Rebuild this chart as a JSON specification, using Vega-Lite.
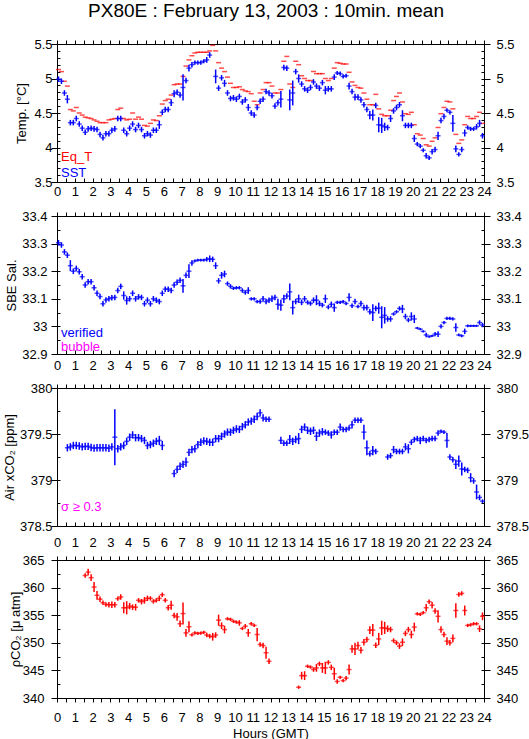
{
"$schema":"https://vega.github.io/schema/vega-lite/v6.json",
"background":"white",
"padding":{"left":2,"top":1,"right":0,"bottom":0},
"title":{"text":"PX80E : February 13, 2003 : 10min. mean","font":"Liberation Sans","fontSize":19,"fontWeight":"normal","color":"black","anchor":"middle","offset":17},
"datasets":{
"temp":[
{"s":"Eq_T","t":0.083,"v":5.13},{"s":"Eq_T","t":0.25,"v":5.10},{"s":"Eq_T","t":0.417,"v":4.96},{"s":"Eq_T","t":0.583,"v":4.89},{"s":"Eq_T","t":0.75,"v":4.55},{"s":"Eq_T","t":0.917,"v":4.53},
{"s":"Eq_T","t":1.083,"v":4.58},{"s":"Eq_T","t":1.25,"v":4.50},{"s":"Eq_T","t":1.417,"v":4.47},{"s":"Eq_T","t":1.583,"v":4.44},{"s":"Eq_T","t":1.75,"v":4.43},{"s":"Eq_T","t":1.917,"v":4.42},
{"s":"Eq_T","t":2.083,"v":4.40},{"s":"Eq_T","t":2.25,"v":4.38},{"s":"Eq_T","t":2.417,"v":4.36},{"s":"Eq_T","t":2.583,"v":4.36},{"s":"Eq_T","t":2.75,"v":4.36},{"s":"Eq_T","t":2.917,"v":4.40},
{"s":"Eq_T","t":3.083,"v":4.41},{"s":"Eq_T","t":3.25,"v":4.42},{"s":"Eq_T","t":3.417,"v":4.55},{"s":"Eq_T","t":3.583,"v":4.57},{"s":"Eq_T","t":3.75,"v":4.42},{"s":"Eq_T","t":3.917,"v":4.40},
{"s":"Eq_T","t":4.083,"v":4.41},{"s":"Eq_T","t":4.25,"v":4.50},{"s":"Eq_T","t":4.417,"v":4.41},{"s":"Eq_T","t":4.583,"v":4.44},{"s":"Eq_T","t":4.75,"v":4.41},{"s":"Eq_T","t":4.917,"v":4.32},
{"s":"Eq_T","t":5.083,"v":4.31},{"s":"Eq_T","t":5.25,"v":4.35},{"s":"Eq_T","t":5.417,"v":4.40},{"s":"Eq_T","t":5.583,"v":4.39},{"s":"Eq_T","t":5.75,"v":4.46},{"s":"Eq_T","t":5.917,"v":4.63},
{"s":"Eq_T","t":6.083,"v":4.68},{"s":"Eq_T","t":6.25,"v":4.70},{"s":"Eq_T","t":6.417,"v":4.76},{"s":"Eq_T","t":6.583,"v":4.91},{"s":"Eq_T","t":6.75,"v":4.92},{"s":"Eq_T","t":6.917,"v":4.92},
{"s":"Eq_T","t":7.083,"v":5.03},{"s":"Eq_T","t":7.25,"v":5.18},{"s":"Eq_T","t":7.417,"v":5.27},{"s":"Eq_T","t":7.583,"v":5.33},{"s":"Eq_T","t":7.75,"v":5.37},{"s":"Eq_T","t":7.917,"v":5.38},
{"s":"Eq_T","t":8.083,"v":5.38},{"s":"Eq_T","t":8.25,"v":5.38},{"s":"Eq_T","t":8.417,"v":5.38},{"s":"Eq_T","t":8.583,"v":5.40},{"s":"Eq_T","t":8.75,"v":5.48},{"s":"Eq_T","t":8.917,"v":5.40},
{"s":"Eq_T","t":9.083,"v":5.23},{"s":"Eq_T","t":9.25,"v":5.15},{"s":"Eq_T","t":9.417,"v":5.10},{"s":"Eq_T","t":9.583,"v":5.02},{"s":"Eq_T","t":9.75,"v":4.93},{"s":"Eq_T","t":9.917,"v":4.87},
{"s":"Eq_T","t":10.083,"v":4.87},{"s":"Eq_T","t":10.25,"v":4.88},{"s":"Eq_T","t":10.417,"v":4.84},{"s":"Eq_T","t":10.583,"v":4.82},{"s":"Eq_T","t":10.75,"v":4.81},{"s":"Eq_T","t":10.917,"v":4.78},
{"s":"Eq_T","t":11.083,"v":4.67},{"s":"Eq_T","t":11.25,"v":4.62},{"s":"Eq_T","t":11.417,"v":4.79},{"s":"Eq_T","t":11.583,"v":4.84},{"s":"Eq_T","t":11.75,"v":4.94},{"s":"Eq_T","t":11.917,"v":4.94},
{"s":"Eq_T","t":12.083,"v":4.89},{"s":"Eq_T","t":12.25,"v":4.79},{"s":"Eq_T","t":12.417,"v":4.79},{"s":"Eq_T","t":12.583,"v":4.84},{"s":"Eq_T","t":12.75,"v":5.25},{"s":"Eq_T","t":12.917,"v":5.32},
{"s":"Eq_T","t":13.083,"v":4.92},{"s":"Eq_T","t":13.25,"v":4.87},{"s":"Eq_T","t":13.417,"v":5.25},{"s":"Eq_T","t":13.583,"v":5.20},{"s":"Eq_T","t":13.75,"v":5.04},{"s":"Eq_T","t":13.917,"v":5.00},
{"s":"Eq_T","t":14.083,"v":4.97},{"s":"Eq_T","t":14.25,"v":4.97},{"s":"Eq_T","t":14.417,"v":5.10},{"s":"Eq_T","t":14.583,"v":5.07},{"s":"Eq_T","t":14.75,"v":5.07},{"s":"Eq_T","t":14.917,"v":5.07},
{"s":"Eq_T","t":15.083,"v":5.00},{"s":"Eq_T","t":15.25,"v":4.97},{"s":"Eq_T","t":15.417,"v":5.00},{"s":"Eq_T","t":15.583,"v":5.15},{"s":"Eq_T","t":15.75,"v":5.23},{"s":"Eq_T","t":15.917,"v":5.22},
{"s":"Eq_T","t":16.083,"v":5.21},{"s":"Eq_T","t":16.25,"v":5.21},{"s":"Eq_T","t":16.417,"v":5.09},{"s":"Eq_T","t":16.583,"v":4.95},{"s":"Eq_T","t":16.75,"v":4.90},{"s":"Eq_T","t":16.917,"v":4.87},
{"s":"Eq_T","t":17.083,"v":4.86},{"s":"Eq_T","t":17.25,"v":4.79},{"s":"Eq_T","t":17.417,"v":4.70},{"s":"Eq_T","t":17.583,"v":4.62},{"s":"Eq_T","t":17.75,"v":4.62},{"s":"Eq_T","t":17.917,"v":4.77},
{"s":"Eq_T","t":18.083,"v":4.56},{"s":"Eq_T","t":18.25,"v":4.48},{"s":"Eq_T","t":18.417,"v":4.46},{"s":"Eq_T","t":18.583,"v":4.46},{"s":"Eq_T","t":18.75,"v":4.54},{"s":"Eq_T","t":18.917,"v":4.68},
{"s":"Eq_T","t":19.083,"v":4.74},{"s":"Eq_T","t":19.25,"v":4.79},{"s":"Eq_T","t":19.417,"v":4.66},{"s":"Eq_T","t":19.583,"v":4.49},{"s":"Eq_T","t":19.75,"v":4.48},{"s":"Eq_T","t":19.917,"v":4.51},
{"s":"Eq_T","t":20.083,"v":4.33},{"s":"Eq_T","t":20.25,"v":4.20},{"s":"Eq_T","t":20.417,"v":4.18},{"s":"Eq_T","t":20.583,"v":4.13},{"s":"Eq_T","t":20.75,"v":4.04},{"s":"Eq_T","t":20.917,"v":4.02},
{"s":"Eq_T","t":21.083,"v":4.09},{"s":"Eq_T","t":21.25,"v":4.14},{"s":"Eq_T","t":21.417,"v":4.29},{"s":"Eq_T","t":21.583,"v":4.49},{"s":"Eq_T","t":21.75,"v":4.58},{"s":"Eq_T","t":21.917,"v":4.67},
{"s":"Eq_T","t":22.083,"v":4.66},{"s":"Eq_T","t":22.25,"v":4.56},{"s":"Eq_T","t":22.417,"v":4.19},{"s":"Eq_T","t":22.583,"v":4.06},{"s":"Eq_T","t":22.75,"v":4.11},{"s":"Eq_T","t":22.917,"v":4.33},
{"s":"Eq_T","t":23.083,"v":4.45},{"s":"Eq_T","t":23.25,"v":4.42},{"s":"Eq_T","t":23.417,"v":4.42},{"s":"Eq_T","t":23.583,"v":4.45},{"s":"Eq_T","t":23.75,"v":4.51},{"s":"Eq_T","t":23.917,"v":4.35},
{"s":"SST","t":0.083,"v":4.99,"e":0.04},{"s":"SST","t":0.25,"v":4.96,"e":0.04},{"s":"SST","t":0.417,"v":4.79,"e":0.04},{"s":"SST","t":0.583,"v":4.70,"e":0.06},{"s":"SST","t":0.75,"v":4.36,"e":0.04},{"s":"SST","t":0.917,"v":4.36,"e":0.04},
{"s":"SST","t":1.083,"v":4.42,"e":0.04},{"s":"SST","t":1.25,"v":4.34,"e":0.04},{"s":"SST","t":1.417,"v":4.28,"e":0.04},{"s":"SST","t":1.583,"v":4.22,"e":0.04},{"s":"SST","t":1.75,"v":4.27,"e":0.04},{"s":"SST","t":1.917,"v":4.28,"e":0.04},
{"s":"SST","t":2.083,"v":4.27,"e":0.04},{"s":"SST","t":2.25,"v":4.26,"e":0.04},{"s":"SST","t":2.417,"v":4.19,"e":0.04},{"s":"SST","t":2.583,"v":4.14,"e":0.04},{"s":"SST","t":2.75,"v":4.20,"e":0.04},{"s":"SST","t":2.917,"v":4.20,"e":0.04},
{"s":"SST","t":3.083,"v":4.25,"e":0.04},{"s":"SST","t":3.25,"v":4.27,"e":0.04},{"s":"SST","t":3.417,"v":4.42,"e":0.04},{"s":"SST","t":3.583,"v":4.42,"e":0.04},{"s":"SST","t":3.75,"v":4.25,"e":0.04},{"s":"SST","t":3.917,"v":4.20,"e":0.04},
{"s":"SST","t":4.083,"v":4.28,"e":0.04},{"s":"SST","t":4.25,"v":4.34,"e":0.04},{"s":"SST","t":4.417,"v":4.26,"e":0.04},{"s":"SST","t":4.583,"v":4.32,"e":0.04},{"s":"SST","t":4.75,"v":4.26,"e":0.04},{"s":"SST","t":4.917,"v":4.17,"e":0.04},
{"s":"SST","t":5.083,"v":4.20,"e":0.04},{"s":"SST","t":5.25,"v":4.18,"e":0.04},{"s":"SST","t":5.417,"v":4.25,"e":0.04},{"s":"SST","t":5.583,"v":4.25,"e":0.04},{"s":"SST","t":5.75,"v":4.33,"e":0.06},{"s":"SST","t":5.917,"v":4.51,"e":0.04},
{"s":"SST","t":6.083,"v":4.55,"e":0.04},{"s":"SST","t":6.25,"v":4.55,"e":0.04},{"s":"SST","t":6.417,"v":4.65,"e":0.05},{"s":"SST","t":6.583,"v":4.78,"e":0.05},{"s":"SST","t":6.75,"v":4.80,"e":0.04},{"s":"SST","t":6.917,"v":4.76,"e":0.04},
{"s":"SST","t":7.083,"v":4.87,"e":0.19},{"s":"SST","t":7.25,"v":4.97,"e":0.04},{"s":"SST","t":7.417,"v":5.15,"e":0.05},{"s":"SST","t":7.583,"v":5.20,"e":0.04},{"s":"SST","t":7.75,"v":5.23,"e":0.03},{"s":"SST","t":7.917,"v":5.23,"e":0.03},
{"s":"SST","t":8.083,"v":5.23,"e":0.03},{"s":"SST","t":8.25,"v":5.25,"e":0.03},{"s":"SST","t":8.417,"v":5.27,"e":0.04},{"s":"SST","t":8.583,"v":5.34,"e":0.04},{"s":"SST","t":8.917,"v":5.03,"e":0.1},
{"s":"SST","t":9.083,"v":4.86,"e":0.04},{"s":"SST","t":9.25,"v":5.01,"e":0.04},{"s":"SST","t":9.417,"v":4.93,"e":0.05},{"s":"SST","t":9.583,"v":4.79,"e":0.04},{"s":"SST","t":9.75,"v":4.71,"e":0.04},{"s":"SST","t":9.917,"v":4.72,"e":0.04},
{"s":"SST","t":10.083,"v":4.70,"e":0.04},{"s":"SST","t":10.25,"v":4.74,"e":0.04},{"s":"SST","t":10.417,"v":4.66,"e":0.04},{"s":"SST","t":10.583,"v":4.69,"e":0.04},{"s":"SST","t":10.75,"v":4.58,"e":0.05},{"s":"SST","t":10.917,"v":4.50,"e":0.04},
{"s":"SST","t":11.083,"v":4.47,"e":0.04},{"s":"SST","t":11.25,"v":4.58,"e":0.04},{"s":"SST","t":11.417,"v":4.67,"e":0.04},{"s":"SST","t":11.583,"v":4.70,"e":0.04},{"s":"SST","t":11.75,"v":4.81,"e":0.04},{"s":"SST","t":11.917,"v":4.79,"e":0.04},
{"s":"SST","t":12.083,"v":4.75,"e":0.04},{"s":"SST","t":12.25,"v":4.60,"e":0.04},{"s":"SST","t":12.417,"v":4.65,"e":0.04},{"s":"SST","t":12.583,"v":4.70,"e":0.12},{"s":"SST","t":12.75,"v":5.16,"e":0.04},{"s":"SST","t":12.917,"v":5.15,"e":0.04},
{"s":"SST","t":13.083,"v":4.69,"e":0.15},{"s":"SST","t":13.25,"v":4.79,"e":0.18},{"s":"SST","t":13.417,"v":5.10,"e":0.04},{"s":"SST","t":13.583,"v":5.00,"e":0.06},{"s":"SST","t":13.75,"v":4.92,"e":0.04},{"s":"SST","t":13.917,"v":4.85,"e":0.04},
{"s":"SST","t":14.083,"v":4.83,"e":0.04},{"s":"SST","t":14.25,"v":4.87,"e":0.04},{"s":"SST","t":14.417,"v":4.95,"e":0.04},{"s":"SST","t":14.583,"v":4.89,"e":0.04},{"s":"SST","t":14.75,"v":4.86,"e":0.04},{"s":"SST","t":14.917,"v":4.94,"e":0.04},
{"s":"SST","t":15.083,"v":4.83,"e":0.06},{"s":"SST","t":15.25,"v":4.85,"e":0.04},{"s":"SST","t":15.417,"v":4.85,"e":0.04},{"s":"SST","t":15.583,"v":5.02,"e":0.04},{"s":"SST","t":15.75,"v":5.08,"e":0.03},{"s":"SST","t":15.917,"v":5.07,"e":0.03},
{"s":"SST","t":16.083,"v":5.03,"e":0.03},{"s":"SST","t":16.25,"v":5.04,"e":0.03},{"s":"SST","t":16.417,"v":4.89,"e":0.05},{"s":"SST","t":16.583,"v":4.81,"e":0.04},{"s":"SST","t":16.75,"v":4.73,"e":0.05},{"s":"SST","t":16.917,"v":4.73,"e":0.04},
{"s":"SST","t":17.083,"v":4.69,"e":0.04},{"s":"SST","t":17.25,"v":4.62,"e":0.04},{"s":"SST","t":17.417,"v":4.55,"e":0.04},{"s":"SST","t":17.583,"v":4.47,"e":0.06},{"s":"SST","t":17.75,"v":4.47,"e":0.08},{"s":"SST","t":17.917,"v":4.61,"e":0.04},
{"s":"SST","t":18.083,"v":4.33,"e":0.11},{"s":"SST","t":18.25,"v":4.32,"e":0.11},{"s":"SST","t":18.417,"v":4.30,"e":0.06},{"s":"SST","t":18.583,"v":4.29,"e":0.04},{"s":"SST","t":18.75,"v":4.42,"e":0.05},{"s":"SST","t":18.917,"v":4.53,"e":0.04},
{"s":"SST","t":19.083,"v":4.58,"e":0.04},{"s":"SST","t":19.25,"v":4.62,"e":0.04},{"s":"SST","t":19.417,"v":4.46,"e":0.08},{"s":"SST","t":19.583,"v":4.32,"e":0.04},{"s":"SST","t":19.75,"v":4.32,"e":0.04},{"s":"SST","t":19.917,"v":4.32,"e":0.04},
{"s":"SST","t":20.083,"v":4.13,"e":0.05},{"s":"SST","t":20.25,"v":4.05,"e":0.03},{"s":"SST","t":20.417,"v":4.02,"e":0.03},{"s":"SST","t":20.583,"v":3.96,"e":0.03},{"s":"SST","t":20.75,"v":3.88,"e":0.04},{"s":"SST","t":20.917,"v":3.85,"e":0.03},
{"s":"SST","t":21.083,"v":3.94,"e":0.04},{"s":"SST","t":21.25,"v":3.97,"e":0.04},{"s":"SST","t":21.417,"v":4.17,"e":0.06},{"s":"SST","t":21.583,"v":4.39,"e":0.04},{"s":"SST","t":21.75,"v":4.45,"e":0.04},{"s":"SST","t":21.917,"v":4.54,"e":0.03},
{"s":"SST","t":22.083,"v":4.51,"e":0.03},{"s":"SST","t":22.25,"v":4.35,"e":0.12},{"s":"SST","t":22.417,"v":3.98,"e":0.05},{"s":"SST","t":22.583,"v":3.90,"e":0.03},{"s":"SST","t":22.75,"v":3.97,"e":0.04},{"s":"SST","t":22.917,"v":4.21,"e":0.05},
{"s":"SST","t":23.083,"v":4.29,"e":0.03},{"s":"SST","t":23.25,"v":4.27,"e":0.03},{"s":"SST","t":23.417,"v":4.27,"e":0.03},{"s":"SST","t":23.583,"v":4.30,"e":0.04},{"s":"SST","t":23.75,"v":4.35,"e":0.05},{"s":"SST","t":23.917,"v":4.17,"e":0.04}
],
"sal":[
{"s":"verified","t":0.083,"v":33.303,"e":0.01},{"s":"verified","t":0.25,"v":33.295,"e":0.01},{"s":"verified","t":0.417,"v":33.27,"e":0.01},{"s":"verified","t":0.583,"v":33.258,"e":0.01},{"s":"verified","t":0.75,"v":33.22,"e":0.02},{"s":"verified","t":0.917,"v":33.2,"e":0.01},
{"s":"verified","t":1.083,"v":33.21,"e":0.01},{"s":"verified","t":1.25,"v":33.198,"e":0.01},{"s":"verified","t":1.417,"v":33.18,"e":0.01},{"s":"verified","t":1.583,"v":33.15,"e":0.01},{"s":"verified","t":1.75,"v":33.162,"e":0.01},{"s":"verified","t":1.917,"v":33.162,"e":0.01},
{"s":"verified","t":2.083,"v":33.14,"e":0.01},{"s":"verified","t":2.25,"v":33.12,"e":0.01},{"s":"verified","t":2.417,"v":33.108,"e":0.01},{"s":"verified","t":2.583,"v":33.082,"e":0.01},{"s":"verified","t":2.75,"v":33.096,"e":0.01},{"s":"verified","t":2.917,"v":33.1,"e":0.01},
{"s":"verified","t":3.083,"v":33.104,"e":0.01},{"s":"verified","t":3.25,"v":33.105,"e":0.01},{"s":"verified","t":3.417,"v":33.13,"e":0.01},{"s":"verified","t":3.583,"v":33.145,"e":0.01},{"s":"verified","t":3.75,"v":33.112,"e":0.015},{"s":"verified","t":3.917,"v":33.094,"e":0.015},
{"s":"verified","t":4.083,"v":33.1,"e":0.01},{"s":"verified","t":4.25,"v":33.12,"e":0.01},{"s":"verified","t":4.417,"v":33.1,"e":0.01},{"s":"verified","t":4.583,"v":33.107,"e":0.01},{"s":"verified","t":4.75,"v":33.105,"e":0.01},{"s":"verified","t":4.917,"v":33.082,"e":0.01},
{"s":"verified","t":5.083,"v":33.095,"e":0.01},{"s":"verified","t":5.25,"v":33.082,"e":0.01},{"s":"verified","t":5.417,"v":33.1,"e":0.01},{"s":"verified","t":5.583,"v":33.095,"e":0.01},{"s":"verified","t":5.75,"v":33.09,"e":0.01},{"s":"verified","t":5.917,"v":33.12,"e":0.01},
{"s":"verified","t":6.083,"v":33.135,"e":0.01},{"s":"verified","t":6.25,"v":33.135,"e":0.01},{"s":"verified","t":6.417,"v":33.13,"e":0.01},{"s":"verified","t":6.583,"v":33.15,"e":0.01},{"s":"verified","t":6.75,"v":33.16,"e":0.01},{"s":"verified","t":6.917,"v":33.167,"e":0.01},
{"s":"verified","t":7.083,"v":33.147,"e":0.025},{"s":"verified","t":7.25,"v":33.185,"e":0.01},{"s":"verified","t":7.417,"v":33.2,"e":0.025},{"s":"verified","t":7.583,"v":33.23,"e":0.01},{"s":"verified","t":7.75,"v":33.237,"e":0.005},{"s":"verified","t":7.917,"v":33.24,"e":0.005},
{"s":"verified","t":8.083,"v":33.24,"e":0.005},{"s":"verified","t":8.25,"v":33.24,"e":0.005},{"s":"verified","t":8.417,"v":33.243,"e":0.008},{"s":"verified","t":8.583,"v":33.245,"e":0.012},{"s":"verified","t":8.75,"v":33.243,"e":0.01},{"s":"verified","t":8.917,"v":33.22,"e":0.012},
{"s":"verified","t":9.083,"v":33.165,"e":0.01},{"s":"verified","t":9.25,"v":33.185,"e":0.012},{"s":"verified","t":9.417,"v":33.19,"e":0.012},{"s":"verified","t":9.583,"v":33.155,"e":0.008},{"s":"verified","t":9.75,"v":33.145,"e":0.008},{"s":"verified","t":9.917,"v":33.138,"e":0.006},
{"s":"verified","t":10.083,"v":33.14,"e":0.006},{"s":"verified","t":10.25,"v":33.14,"e":0.006},{"s":"verified","t":10.417,"v":33.13,"e":0.008},{"s":"verified","t":10.583,"v":33.123,"e":0.008},{"s":"verified","t":10.75,"v":33.13,"e":0.012},{"s":"verified","t":10.917,"v":33.1,"e":0.006},
{"s":"verified","t":11.083,"v":33.1,"e":0.006},{"s":"verified","t":11.25,"v":33.09,"e":0.006},{"s":"verified","t":11.417,"v":33.09,"e":0.008},{"s":"verified","t":11.583,"v":33.1,"e":0.01},{"s":"verified","t":11.75,"v":33.09,"e":0.01},{"s":"verified","t":11.917,"v":33.095,"e":0.01},
{"s":"verified","t":12.083,"v":33.1,"e":0.012},{"s":"verified","t":12.25,"v":33.105,"e":0.01},{"s":"verified","t":12.417,"v":33.08,"e":0.02},{"s":"verified","t":12.583,"v":33.077,"e":0.02},{"s":"verified","t":12.75,"v":33.1,"e":0.015},{"s":"verified","t":12.917,"v":33.11,"e":0.01},
{"s":"verified","t":13.083,"v":33.125,"e":0.03},{"s":"verified","t":13.25,"v":33.068,"e":0.025},{"s":"verified","t":13.417,"v":33.09,"e":0.01},{"s":"verified","t":13.583,"v":33.1,"e":0.015},{"s":"verified","t":13.75,"v":33.087,"e":0.01},{"s":"verified","t":13.917,"v":33.1,"e":0.01},
{"s":"verified","t":14.083,"v":33.087,"e":0.008},{"s":"verified","t":14.25,"v":33.083,"e":0.008},{"s":"verified","t":14.417,"v":33.095,"e":0.01},{"s":"verified","t":14.583,"v":33.095,"e":0.018},{"s":"verified","t":14.75,"v":33.083,"e":0.01},{"s":"verified","t":14.917,"v":33.077,"e":0.008},
{"s":"verified","t":15.083,"v":33.1,"e":0.015},{"s":"verified","t":15.25,"v":33.07,"e":0.008},{"s":"verified","t":15.417,"v":33.08,"e":0.01},{"s":"verified","t":15.583,"v":33.068,"e":0.015},{"s":"verified","t":15.75,"v":33.087,"e":0.006},{"s":"verified","t":15.917,"v":33.087,"e":0.006},
{"s":"verified","t":16.083,"v":33.09,"e":0.006},{"s":"verified","t":16.25,"v":33.083,"e":0.006},{"s":"verified","t":16.417,"v":33.105,"e":0.015},{"s":"verified","t":16.583,"v":33.075,"e":0.008},{"s":"verified","t":16.75,"v":33.09,"e":0.01},{"s":"verified","t":16.917,"v":33.072,"e":0.006},
{"s":"verified","t":17.083,"v":33.083,"e":0.01},{"s":"verified","t":17.25,"v":33.068,"e":0.01},{"s":"verified","t":17.417,"v":33.068,"e":0.01},{"s":"verified","t":17.583,"v":33.053,"e":0.01},{"s":"verified","t":17.75,"v":33.05,"e":0.03},{"s":"verified","t":17.917,"v":33.065,"e":0.01},
{"s":"verified","t":18.083,"v":33.066,"e":0.02},{"s":"verified","t":18.25,"v":33.033,"e":0.04},{"s":"verified","t":18.417,"v":33.04,"e":0.03},{"s":"verified","t":18.583,"v":33.027,"e":0.01},{"s":"verified","t":18.75,"v":33.027,"e":0.01},{"s":"verified","t":18.917,"v":33.045,"e":0.006},
{"s":"verified","t":19.083,"v":33.053,"e":0.006},{"s":"verified","t":19.25,"v":33.065,"e":0.008},{"s":"verified","t":19.417,"v":33.063,"e":0.015},{"s":"verified","t":19.583,"v":33.036,"e":0.01},{"s":"verified","t":19.75,"v":33.023,"e":0.008},{"s":"verified","t":19.917,"v":33.036,"e":0.015},
{"s":"verified","t":20.083,"v":33.027,"e":0.015},{"s":"verified","t":20.25,"v":32.994,"e":0.004},{"s":"verified","t":20.417,"v":32.99,"e":0.004},{"s":"verified","t":20.583,"v":32.982,"e":0.004},{"s":"verified","t":20.75,"v":32.969,"e":0.008},{"s":"verified","t":20.917,"v":32.963,"e":0.004},
{"s":"verified","t":21.083,"v":32.966,"e":0.004},{"s":"verified","t":21.25,"v":32.972,"e":0.008},{"s":"verified","t":21.417,"v":32.972,"e":0.01},{"s":"verified","t":21.583,"v":33.0,"e":0.008},{"s":"verified","t":21.75,"v":33.014,"e":0.006},{"s":"verified","t":21.917,"v":33.029,"e":0.006},
{"s":"verified","t":22.083,"v":33.029,"e":0.006},{"s":"verified","t":22.25,"v":33.027,"e":0.006},{"s":"verified","t":22.417,"v":32.996,"e":0.015},{"s":"verified","t":22.583,"v":32.969,"e":0.005},{"s":"verified","t":22.75,"v":32.966,"e":0.005},{"s":"verified","t":22.917,"v":32.982,"e":0.01},
{"s":"verified","t":23.083,"v":33.002,"e":0.005},{"s":"verified","t":23.25,"v":33.002,"e":0.004},{"s":"verified","t":23.417,"v":33.002,"e":0.004},{"s":"verified","t":23.583,"v":33.002,"e":0.004},{"s":"verified","t":23.75,"v":33.014,"e":0.008},{"s":"verified","t":23.917,"v":33.005,"e":0.008}
],
"air":[
{"s":"air","t":0.583,"v":379.35,"e":0.04},{"s":"air","t":0.75,"v":379.36,"e":0.04},{"s":"air","t":0.917,"v":379.375,"e":0.04},
{"s":"air","t":1.083,"v":379.375,"e":0.04},{"s":"air","t":1.25,"v":379.37,"e":0.04},{"s":"air","t":1.417,"v":379.36,"e":0.04},{"s":"air","t":1.583,"v":379.365,"e":0.04},{"s":"air","t":1.75,"v":379.365,"e":0.04},{"s":"air","t":1.917,"v":379.353,"e":0.04},
{"s":"air","t":2.083,"v":379.346,"e":0.04},{"s":"air","t":2.25,"v":379.35,"e":0.04},{"s":"air","t":2.417,"v":379.35,"e":0.04},{"s":"air","t":2.583,"v":379.35,"e":0.04},{"s":"air","t":2.75,"v":379.35,"e":0.04},{"s":"air","t":2.917,"v":379.345,"e":0.04},
{"s":"air","t":3.083,"v":379.36,"e":0.04},{"s":"air","t":3.25,"v":379.465,"e":0.305},{"s":"air","t":3.417,"v":379.34,"e":0.04},{"s":"air","t":3.583,"v":379.36,"e":0.04},{"s":"air","t":3.75,"v":379.375,"e":0.04},{"s":"air","t":3.917,"v":379.42,"e":0.04},
{"s":"air","t":4.083,"v":379.465,"e":0.04},{"s":"air","t":4.25,"v":379.49,"e":0.04},{"s":"air","t":4.417,"v":379.46,"e":0.04},{"s":"air","t":4.583,"v":379.46,"e":0.04},{"s":"air","t":4.75,"v":379.45,"e":0.04},{"s":"air","t":4.917,"v":379.43,"e":0.04},
{"s":"air","t":5.083,"v":379.375,"e":0.04},{"s":"air","t":5.25,"v":379.385,"e":0.04},{"s":"air","t":5.417,"v":379.40,"e":0.04},{"s":"air","t":5.583,"v":379.42,"e":0.04},{"s":"air","t":5.75,"v":379.43,"e":0.05},{"s":"air","t":5.917,"v":379.375,"e":0.05},
{"s":"air","t":6.583,"v":379.07,"e":0.04},{"s":"air","t":6.75,"v":379.115,"e":0.04},{"s":"air","t":6.917,"v":379.15,"e":0.04},
{"s":"air","t":7.083,"v":379.17,"e":0.04},{"s":"air","t":7.25,"v":379.195,"e":0.05},{"s":"air","t":7.417,"v":379.30,"e":0.04},{"s":"air","t":7.583,"v":379.33,"e":0.04},{"s":"air","t":7.75,"v":379.34,"e":0.04},{"s":"air","t":7.917,"v":379.385,"e":0.04},
{"s":"air","t":8.083,"v":379.41,"e":0.04},{"s":"air","t":8.25,"v":379.425,"e":0.04},{"s":"air","t":8.417,"v":379.42,"e":0.04},{"s":"air","t":8.583,"v":379.41,"e":0.04},{"s":"air","t":8.75,"v":379.41,"e":0.04},{"s":"air","t":8.917,"v":379.45,"e":0.04},
{"s":"air","t":9.083,"v":379.45,"e":0.04},{"s":"air","t":9.25,"v":379.475,"e":0.04},{"s":"air","t":9.417,"v":379.50,"e":0.04},{"s":"air","t":9.583,"v":379.52,"e":0.04},{"s":"air","t":9.75,"v":379.52,"e":0.04},{"s":"air","t":9.917,"v":379.54,"e":0.04},
{"s":"air","t":10.083,"v":379.555,"e":0.04},{"s":"air","t":10.25,"v":379.55,"e":0.04},{"s":"air","t":10.417,"v":379.58,"e":0.04},{"s":"air","t":10.583,"v":379.60,"e":0.04},{"s":"air","t":10.75,"v":379.63,"e":0.04},{"s":"air","t":10.917,"v":379.64,"e":0.04},
{"s":"air","t":11.083,"v":379.66,"e":0.04},{"s":"air","t":11.25,"v":379.69,"e":0.04},{"s":"air","t":11.417,"v":379.73,"e":0.04},{"s":"air","t":11.583,"v":379.675,"e":0.04},{"s":"air","t":11.75,"v":379.66,"e":0.03},{"s":"air","t":11.917,"v":379.66,"e":0.03},
{"s":"air","t":12.583,"v":379.43,"e":0.04},{"s":"air","t":12.75,"v":379.40,"e":0.03},{"s":"air","t":12.917,"v":379.40,"e":0.03},
{"s":"air","t":13.083,"v":379.44,"e":0.05},{"s":"air","t":13.25,"v":379.42,"e":0.04},{"s":"air","t":13.417,"v":379.44,"e":0.04},{"s":"air","t":13.583,"v":379.45,"e":0.06},{"s":"air","t":13.75,"v":379.55,"e":0.04},{"s":"air","t":13.917,"v":379.575,"e":0.04},
{"s":"air","t":14.083,"v":379.54,"e":0.04},{"s":"air","t":14.25,"v":379.53,"e":0.04},{"s":"air","t":14.417,"v":379.54,"e":0.04},{"s":"air","t":14.583,"v":379.475,"e":0.05},{"s":"air","t":14.75,"v":379.51,"e":0.04},{"s":"air","t":14.917,"v":379.525,"e":0.04},
{"s":"air","t":15.083,"v":379.52,"e":0.03},{"s":"air","t":15.25,"v":379.51,"e":0.03},{"s":"air","t":15.417,"v":379.49,"e":0.04},{"s":"air","t":15.583,"v":379.52,"e":0.03},{"s":"air","t":15.75,"v":379.52,"e":0.03},{"s":"air","t":15.917,"v":379.575,"e":0.04},
{"s":"air","t":16.083,"v":379.55,"e":0.03},{"s":"air","t":16.25,"v":379.55,"e":0.03},{"s":"air","t":16.417,"v":379.565,"e":0.03},{"s":"air","t":16.583,"v":379.60,"e":0.04},{"s":"air","t":16.75,"v":379.65,"e":0.03},{"s":"air","t":16.917,"v":379.65,"e":0.03},
{"s":"air","t":17.083,"v":379.65,"e":0.03},{"s":"air","t":17.25,"v":379.52,"e":0.08},{"s":"air","t":17.417,"v":379.35,"e":0.08},{"s":"air","t":17.583,"v":379.285,"e":0.03},{"s":"air","t":17.75,"v":379.32,"e":0.05},{"s":"air","t":17.917,"v":379.31,"e":0.03},
{"s":"air","t":18.583,"v":379.25,"e":0.03},{"s":"air","t":18.75,"v":379.265,"e":0.03},{"s":"air","t":18.917,"v":379.33,"e":0.04},
{"s":"air","t":19.083,"v":379.31,"e":0.03},{"s":"air","t":19.25,"v":379.31,"e":0.03},{"s":"air","t":19.417,"v":379.31,"e":0.03},{"s":"air","t":19.583,"v":379.36,"e":0.04},{"s":"air","t":19.75,"v":379.34,"e":0.05},{"s":"air","t":19.917,"v":379.41,"e":0.03},
{"s":"air","t":20.083,"v":379.44,"e":0.03},{"s":"air","t":20.25,"v":379.45,"e":0.03},{"s":"air","t":20.417,"v":379.43,"e":0.04},{"s":"air","t":20.583,"v":379.45,"e":0.03},{"s":"air","t":20.75,"v":379.43,"e":0.03},{"s":"air","t":20.917,"v":379.44,"e":0.03},
{"s":"air","t":21.083,"v":379.45,"e":0.03},{"s":"air","t":21.25,"v":379.45,"e":0.03},{"s":"air","t":21.417,"v":379.51,"e":0.03},{"s":"air","t":21.583,"v":379.53,"e":0.02},{"s":"air","t":21.75,"v":379.52,"e":0.02},{"s":"air","t":21.917,"v":379.43,"e":0.08},
{"s":"air","t":22.083,"v":379.25,"e":0.03},{"s":"air","t":22.25,"v":379.22,"e":0.03},{"s":"air","t":22.417,"v":379.17,"e":0.05},{"s":"air","t":22.583,"v":379.205,"e":0.06},{"s":"air","t":22.75,"v":379.12,"e":0.07},{"s":"air","t":22.917,"v":379.115,"e":0.03},
{"s":"air","t":23.083,"v":379.105,"e":0.03},{"s":"air","t":23.25,"v":379.025,"e":0.05},{"s":"air","t":23.417,"v":378.99,"e":0.03},{"s":"air","t":23.583,"v":378.87,"e":0.08},{"s":"air","t":23.75,"v":378.81,"e":0.03},{"s":"air","t":23.917,"v":378.77,"e":0.02}
],
"pco2":[
{"t":1.583,"v":362.2,"e":0.4},{"t":1.75,"v":362.8,"e":0.6},{"t":1.917,"v":361.8,"e":0.6},
{"t":2.083,"v":360.1,"e":0.9},{"t":2.25,"v":358.6,"e":0.8},{"t":2.417,"v":357.9,"e":0.5},{"t":2.583,"v":357.25,"e":0.4},{"t":2.75,"v":356.95,"e":0.4},{"t":2.917,"v":356.9,"e":0.5},
{"t":3.083,"v":356.9,"e":0.6},{"t":3.25,"v":356.9,"e":0.5},{"t":3.417,"v":358.0,"e":0.4},{"t":3.583,"v":358.3,"e":0.5},{"t":3.75,"v":356.35,"e":1.0},{"t":3.917,"v":356.35,"e":1.2},
{"t":4.083,"v":356.65,"e":0.6},{"t":4.25,"v":356.45,"e":0.5},{"t":4.417,"v":356.45,"e":0.6},{"t":4.583,"v":357.7,"e":0.4},{"t":4.75,"v":357.45,"e":0.5},{"t":4.917,"v":357.7,"e":0.6},
{"t":5.083,"v":358.05,"e":0.5},{"t":5.25,"v":358.05,"e":0.4},{"t":5.417,"v":357.5,"e":0.4},{"t":5.583,"v":357.7,"e":0.4},{"t":5.75,"v":358.05,"e":0.5},{"t":5.917,"v":358.7,"e":0.4},
{"t":6.083,"v":357.7,"e":0.4},{"t":6.25,"v":356.35,"e":0.5},{"t":6.417,"v":356.8,"e":0.8},{"t":6.583,"v":354.95,"e":0.5},{"t":6.75,"v":354.7,"e":0.7},{"t":6.917,"v":353.45,"e":0.6},
{"t":7.083,"v":355.3,"e":2.0},{"t":7.25,"v":351.8,"e":0.7},{"t":7.417,"v":352.9,"e":1.0},{"t":7.583,"v":351.45,"e":0.3},{"t":7.75,"v":351.8,"e":0.3},{"t":7.917,"v":351.7,"e":0.3},
{"t":8.083,"v":351.75,"e":0.3},{"t":8.25,"v":351.9,"e":0.3},{"t":8.417,"v":351.4,"e":0.4},{"t":8.583,"v":351.2,"e":0.4},{"t":8.75,"v":351.1,"e":0.7},{"t":8.917,"v":351.4,"e":0.5},
{"t":9.083,"v":354.1,"e":1.0},{"t":9.25,"v":353.1,"e":0.6},{"t":9.417,"v":352.4,"e":0.7},{"t":9.583,"v":354.35,"e":0.3},{"t":9.75,"v":354.25,"e":0.3},{"t":9.917,"v":353.9,"e":0.3},
{"t":10.083,"v":353.75,"e":0.3},{"t":10.25,"v":353.6,"e":0.5},{"t":10.417,"v":352.6,"e":0.3},{"t":10.583,"v":353.0,"e":0.4},{"t":10.75,"v":351.8,"e":0.7},{"t":10.917,"v":353.45,"e":0.3},
{"t":11.083,"v":353.15,"e":0.3},{"t":11.25,"v":351.5,"e":1.2},{"t":11.417,"v":349.7,"e":0.4},{"t":11.583,"v":349.5,"e":0.5},{"t":11.75,"v":348.2,"e":1.1},{"t":11.917,"v":346.65,"e":0.5},
{"t":13.583,"v":341.95,"e":0.3},{"t":13.75,"v":344.05,"e":0.7},{"t":13.917,"v":344.05,"e":0.8},
{"t":14.083,"v":345.75,"e":0.3},{"t":14.25,"v":345.6,"e":0.3},{"t":14.417,"v":345.15,"e":0.4},{"t":14.583,"v":345.45,"e":0.7},{"t":14.75,"v":346.2,"e":0.4},{"t":14.917,"v":345.45,"e":0.9},
{"t":15.083,"v":345.45,"e":1.1},{"t":15.25,"v":346.45,"e":0.4},{"t":15.417,"v":345.55,"e":0.5},{"t":15.583,"v":344.4,"e":1.1},{"t":15.75,"v":343.0,"e":0.4},{"t":15.917,"v":343.75,"e":0.3},
{"t":16.083,"v":343.15,"e":0.3},{"t":16.25,"v":343.6,"e":0.4},{"t":16.417,"v":345.15,"e":0.9},{"t":16.583,"v":348.9,"e":0.7},{"t":16.75,"v":348.9,"e":1.1},{"t":16.917,"v":349.5,"e":0.7},
{"t":17.083,"v":348.65,"e":0.6},{"t":17.25,"v":350.1,"e":0.6},{"t":17.417,"v":350.6,"e":0.5},{"t":17.583,"v":352.3,"e":0.7},{"t":17.75,"v":352.3,"e":1.1},{"t":17.917,"v":349.55,"e":0.5},
{"t":18.083,"v":350.7,"e":1.1},{"t":18.25,"v":352.7,"e":1.3},{"t":18.417,"v":352.7,"e":1.1},{"t":18.583,"v":352.55,"e":0.6},{"t":18.75,"v":352.4,"e":0.5},{"t":18.917,"v":350.4,"e":0.4},
{"t":19.083,"v":350.0,"e":0.4},{"t":19.25,"v":349.4,"e":0.5},{"t":19.417,"v":350.1,"e":0.7},{"t":19.583,"v":351.7,"e":0.5},{"t":19.75,"v":352.4,"e":0.5},{"t":19.917,"v":351.5,"e":0.7},
{"t":20.083,"v":352.85,"e":0.8},{"t":20.25,"v":355.25,"e":0.3},{"t":20.417,"v":355.15,"e":0.3},{"t":20.583,"v":355.45,"e":0.3},{"t":20.75,"v":356.35,"e":0.7},{"t":20.917,"v":357.45,"e":0.4},
{"t":21.083,"v":356.8,"e":0.6},{"t":21.25,"v":355.75,"e":0.5},{"t":21.417,"v":354.8,"e":1.1},{"t":21.583,"v":352.4,"e":0.6},{"t":21.75,"v":351.5,"e":0.5},{"t":21.917,"v":350.3,"e":0.7},
{"t":22.083,"v":350.0,"e":0.5},{"t":22.25,"v":350.8,"e":0.7},{"t":22.417,"v":355.85,"e":1.3},{"t":22.583,"v":358.75,"e":0.4},{"t":22.75,"v":358.95,"e":0.4},{"t":22.917,"v":355.85,"e":0.9},
{"t":23.083,"v":353.15,"e":0.3},{"t":23.25,"v":353.25,"e":0.3},{"t":23.417,"v":353.45,"e":0.3},{"t":23.583,"v":353.45,"e":0.3},{"t":23.75,"v":352.55,"e":0.6},{"t":23.917,"v":354.8,"e":0.7}
]
},
"vconcat":[
{
"width":427,"height":138,
"layer":[
{"data":{"name":"temp"},"mark":{"type":"tick","orient":"horizontal","size":5,"thickness":1.5},
"encoding":{
"x":{"field":"t","type":"quantitative","scale":{"domain":[0,24],"nice":false,"zero":false},"axis":{"orient":"bottom","values":[0,0.5,1,1.5,2,2.5,3,3.5,4,4.5,5,5.5,6,6.5,7,7.5,8,8.5,9,9.5,10,10.5,11,11.5,12,12.5,13,13.5,14,14.5,15,15.5,16,16.5,17,17.5,18,18.5,19,19.5,20,20.5,21,21.5,22,22.5,23,23.5,24],"labelExpr":"datum.value % 1 === 0 ? format(datum.value, 'd') : ''","tickSize":-4,"labelPadding":7,"title":null}},
"y":{"field":"v","type":"quantitative","scale":{"domain":[3.5,5.5],"nice":false,"zero":false},"axis":{"orient":"left","values":[3.5,4,4.5,5,5.5],"format":"~f","tickSize":6,"labelPadding":-1,"title":"Temp. [°C]","titlePadding":5}},
"color":{"field":"s","type":"nominal","scale":{"domain":["Eq_T","SST"],"range":["#ff0000","#0000ff"]},"legend":{"orient":"none","legendX":-9,"legendY":106,"rowPadding":2,"padding":0,"symbolSize":1,"symbolOpacity":0,"symbolStrokeWidth":0,"labelOffset":0,"title":null,"encode":{"labels":{"update":{"fill":{"signal":"datum.value === 'Eq_T' ? '#ff0000' : '#0000ff'"}}}}}}
}},
{"data":{"name":"temp"},"transform":[{"filter":"datum.s === 'SST'"}],"mark":{"type":"errorbar","thickness":1.5},
"encoding":{
"x":{"field":"t","type":"quantitative","axis":{"orient":"top","values":[0,0.5,1,1.5,2,2.5,3,3.5,4,4.5,5,5.5,6,6.5,7,7.5,8,8.5,9,9.5,10,10.5,11,11.5,12,12.5,13,13.5,14,14.5,15,15.5,16,16.5,17,17.5,18,18.5,19,19.5,20,20.5,21,21.5,22,22.5,23,23.5,24],"labels":false,"tickSize":4,"title":null}},
"y":{"field":"v","type":"quantitative","axis":{"orient":"right","values":[3.5,4,4.5,5,5.5],"format":"~f","tickSize":6,"labelPadding":6,"title":null}},
"yError":{"field":"e"},
"color":{"field":"s","type":"nominal","legend":null}
}},
{"data":{"name":"temp"},"mark":{"type":"tick","opacity":0},
"encoding":{"x":{"field":"t","type":"quantitative","axis":null},"y":{"field":"v","type":"quantitative","axis":{"orient":"left","values":[3.5,3.6,3.7,3.8,3.9,4,4.1,4.2,4.3,4.4,4.5,4.6,4.7,4.8,4.9,5,5.1,5.2,5.3,5.4,5.5],"labels":false,"domain":false,"tickSize":-3,"title":null}}}},
{"data":{"name":"temp"},"mark":{"type":"tick","opacity":0},
"encoding":{"x":{"field":"t","type":"quantitative","axis":null},"y":{"field":"v","type":"quantitative","axis":{"orient":"right","values":[3.5,3.6,3.7,3.8,3.9,4,4.1,4.2,4.3,4.4,4.5,4.6,4.7,4.8,4.9,5,5.1,5.2,5.3,5.4,5.5],"labels":false,"domain":false,"tickSize":-3,"title":null}}}}
],
"resolve":{"axis":{"x":"independent","y":"independent"}}
},
{
"width":427,"height":138,
"layer":[
{"data":{"name":"sal"},"mark":{"type":"tick","orient":"horizontal","size":5,"thickness":1.5},
"encoding":{
"x":{"field":"t","type":"quantitative","scale":{"domain":[0,24],"nice":false,"zero":false},"axis":{"orient":"bottom","values":[0,0.5,1,1.5,2,2.5,3,3.5,4,4.5,5,5.5,6,6.5,7,7.5,8,8.5,9,9.5,10,10.5,11,11.5,12,12.5,13,13.5,14,14.5,15,15.5,16,16.5,17,17.5,18,18.5,19,19.5,20,20.5,21,21.5,22,22.5,23,23.5,24],"labelExpr":"datum.value % 1 === 0 ? format(datum.value, 'd') : ''","tickSize":-4,"labelPadding":9,"title":null}},
"y":{"field":"v","type":"quantitative","scale":{"domain":[32.9,33.4],"nice":false,"zero":false},"axis":{"orient":"left","values":[32.9,33,33.1,33.2,33.3,33.4],"format":"~f","tickSize":6,"labelPadding":4,"title":"SBE Sal.","titlePadding":3}},
"color":{"field":"s","type":"nominal","scale":{"domain":["verified","bubble"],"range":["#0000ff","#ff00ff"]},"legend":{"orient":"none","legendX":-9,"legendY":110,"rowPadding":0,"padding":0,"symbolSize":1,"symbolOpacity":0,"symbolStrokeWidth":0,"labelOffset":0,"title":null,"encode":{"labels":{"update":{"fill":{"signal":"datum.value === 'verified' ? '#0000ff' : '#ff00ff'"}}}}}}
}},
{"data":{"name":"sal"},"mark":{"type":"errorbar","thickness":1.5},
"encoding":{
"x":{"field":"t","type":"quantitative","axis":{"orient":"top","values":[0,0.5,1,1.5,2,2.5,3,3.5,4,4.5,5,5.5,6,6.5,7,7.5,8,8.5,9,9.5,10,10.5,11,11.5,12,12.5,13,13.5,14,14.5,15,15.5,16,16.5,17,17.5,18,18.5,19,19.5,20,20.5,21,21.5,22,22.5,23,23.5,24],"labels":false,"tickSize":4,"title":null}},
"y":{"field":"v","type":"quantitative","axis":{"orient":"right","values":[32.9,33,33.1,33.2,33.3,33.4],"format":"~f","tickSize":6,"labelPadding":6,"title":null}},
"yError":{"field":"e"},
"color":{"field":"s","type":"nominal","legend":null}
}},
{"data":{"name":"sal"},"mark":{"type":"tick","opacity":0},
"encoding":{"x":{"field":"t","type":"quantitative","axis":null},"y":{"field":"v","type":"quantitative","axis":{"orient":"left","values":[32.9,32.95,33,33.05,33.1,33.15,33.2,33.25,33.3,33.35,33.4],"labels":false,"domain":false,"tickSize":-3,"title":null}}}},
{"data":{"name":"sal"},"mark":{"type":"tick","opacity":0},
"encoding":{"x":{"field":"t","type":"quantitative","axis":null},"y":{"field":"v","type":"quantitative","axis":{"orient":"right","values":[32.9,32.95,33,33.05,33.1,33.15,33.2,33.25,33.3,33.35,33.4],"labels":false,"domain":false,"tickSize":-3,"title":null}}}}
],
"resolve":{"axis":{"x":"independent","y":"independent"}}
},
{
"width":427,"height":138,
"layer":[
{"data":{"name":"air"},"mark":{"type":"tick","orient":"horizontal","size":5,"thickness":1.5},
"encoding":{
"x":{"field":"t","type":"quantitative","scale":{"domain":[0,24],"nice":false,"zero":false},"axis":{"orient":"bottom","values":[0,0.5,1,1.5,2,2.5,3,3.5,4,4.5,5,5.5,6,6.5,7,7.5,8,8.5,9,9.5,10,10.5,11,11.5,12,12.5,13,13.5,14,14.5,15,15.5,16,16.5,17,17.5,18,18.5,19,19.5,20,20.5,21,21.5,22,22.5,23,23.5,24],"labelExpr":"datum.value % 1 === 0 ? format(datum.value, 'd') : ''","tickSize":-4,"labelPadding":14,"title":null}},
"y":{"field":"v","type":"quantitative","scale":{"domain":[378.5,380],"nice":false,"zero":false},"axis":{"orient":"left","values":[378.5,379,379.5,380],"format":"~f","tickSize":6,"labelPadding":-1,"title":"Air xCO₂ [ppm]","titlePadding":3}},
"color":{"field":"s","type":"nominal","scale":{"domain":["air","σ ≥ 0.3"],"range":["#0000ff","#ff00ff"]},"legend":{"orient":"none","legendX":-9,"legendY":112,"padding":0,"symbolSize":1,"symbolOpacity":0,"symbolStrokeWidth":0,"labelOffset":0,"values":["σ ≥ 0.3"],"title":null,"encode":{"labels":{"update":{"fill":{"value":"#ff00ff"}}}}}}
}},
{"data":{"name":"air"},"mark":{"type":"errorbar","thickness":1.5},
"encoding":{
"x":{"field":"t","type":"quantitative","axis":{"orient":"top","values":[0,0.5,1,1.5,2,2.5,3,3.5,4,4.5,5,5.5,6,6.5,7,7.5,8,8.5,9,9.5,10,10.5,11,11.5,12,12.5,13,13.5,14,14.5,15,15.5,16,16.5,17,17.5,18,18.5,19,19.5,20,20.5,21,21.5,22,22.5,23,23.5,24],"labels":false,"tickSize":4,"title":null}},
"y":{"field":"v","type":"quantitative","axis":{"orient":"right","values":[378.5,379,379.5,380],"format":"~f","tickSize":6,"labelPadding":6,"title":null}},
"yError":{"field":"e"},
"color":{"field":"s","type":"nominal","legend":null}
}},
{"data":{"name":"air"},"mark":{"type":"tick","opacity":0},
"encoding":{"x":{"field":"t","type":"quantitative","axis":null},"y":{"field":"v","type":"quantitative","axis":{"orient":"left","values":[378.5,378.75,379,379.25,379.5,379.75,380],"labels":false,"domain":false,"tickSize":-3,"title":null}}}},
{"data":{"name":"air"},"mark":{"type":"tick","opacity":0},
"encoding":{"x":{"field":"t","type":"quantitative","axis":null},"y":{"field":"v","type":"quantitative","axis":{"orient":"right","values":[378.5,378.75,379,379.25,379.5,379.75,380],"labels":false,"domain":false,"tickSize":-3,"title":null}}}}
],
"resolve":{"axis":{"x":"independent","y":"independent"}}
},
{
"width":427,"height":138,
"layer":[
{"data":{"name":"pco2"},"mark":{"type":"tick","orient":"horizontal","size":5,"thickness":1.5,"color":"#ff0000"},
"encoding":{
"x":{"field":"t","type":"quantitative","scale":{"domain":[0,24],"nice":false,"zero":false},"axis":{"orient":"bottom","values":[0,0.5,1,1.5,2,2.5,3,3.5,4,4.5,5,5.5,6,6.5,7,7.5,8,8.5,9,9.5,10,10.5,11,11.5,12,12.5,13,13.5,14,14.5,15,15.5,16,16.5,17,17.5,18,18.5,19,19.5,20,20.5,21,21.5,22,22.5,23,23.5,24],"labelExpr":"datum.value % 1 === 0 ? format(datum.value, 'd') : ''","tickSize":4,"labelPadding":9,"title":"Hours (GMT)","titlePadding":3}},
"y":{"field":"v","type":"quantitative","scale":{"domain":[340,365],"nice":false,"zero":false},"axis":{"orient":"left","values":[340,345,350,355,360,365],"format":"~f","tickSize":6,"labelPadding":7,"title":"ρCO₂ [μ atm]","titlePadding":0}}
}},
{"data":{"name":"pco2"},"mark":{"type":"errorbar","thickness":1.5,"color":"#ff0000"},
"encoding":{
"x":{"field":"t","type":"quantitative","axis":{"orient":"top","values":[0,0.5,1,1.5,2,2.5,3,3.5,4,4.5,5,5.5,6,6.5,7,7.5,8,8.5,9,9.5,10,10.5,11,11.5,12,12.5,13,13.5,14,14.5,15,15.5,16,16.5,17,17.5,18,18.5,19,19.5,20,20.5,21,21.5,22,22.5,23,23.5,24],"labels":false,"tickSize":4,"title":null}},
"y":{"field":"v","type":"quantitative","axis":{"orient":"right","values":[340,345,350,355,360,365],"format":"~f","tickSize":6,"labelPadding":6,"title":null}},
"yError":{"field":"e"}
}},
{"data":{"name":"pco2"},"mark":{"type":"tick","opacity":0},
"encoding":{"x":{"field":"t","type":"quantitative","axis":null},"y":{"field":"v","type":"quantitative","axis":{"orient":"left","values":[340,342.5,345,347.5,350,352.5,355,357.5,360,362.5,365],"labels":false,"domain":false,"tickSize":-3,"title":null}}}},
{"data":{"name":"pco2"},"mark":{"type":"tick","opacity":0},
"encoding":{"x":{"field":"t","type":"quantitative","axis":null},"y":{"field":"v","type":"quantitative","axis":{"orient":"right","values":[340,342.5,345,347.5,350,352.5,355,357.5,360,362.5,365],"labels":false,"domain":false,"tickSize":-3,"title":null}}}}
],
"resolve":{"axis":{"x":"independent","y":"independent"}}
}
],
"spacing":34,
"bounds":"flush",
"resolve":{"scale":{"color":"independent","x":"independent","y":"independent"},"legend":{"color":"independent"}},
"config":{
"view":{"stroke":"black","strokeWidth":1},
"axis":{"domainColor":"black","tickColor":"black","labelColor":"black","titleColor":"black","labelFont":"Liberation Sans","labelFontSize":13,"titleFont":"Liberation Sans","titleFontSize":13,"titleFontWeight":"normal","grid":false,"labelOverlap":false,"labelFlush":false,"labelBound":false,"tickWidth":1,"domainWidth":1},
"legend":{"labelFont":"Liberation Sans","labelFontSize":13,"symbolSize":1,"symbolOpacity":0,"symbolStrokeWidth":0,"labelOffset":0,"padding":0}
}
}
